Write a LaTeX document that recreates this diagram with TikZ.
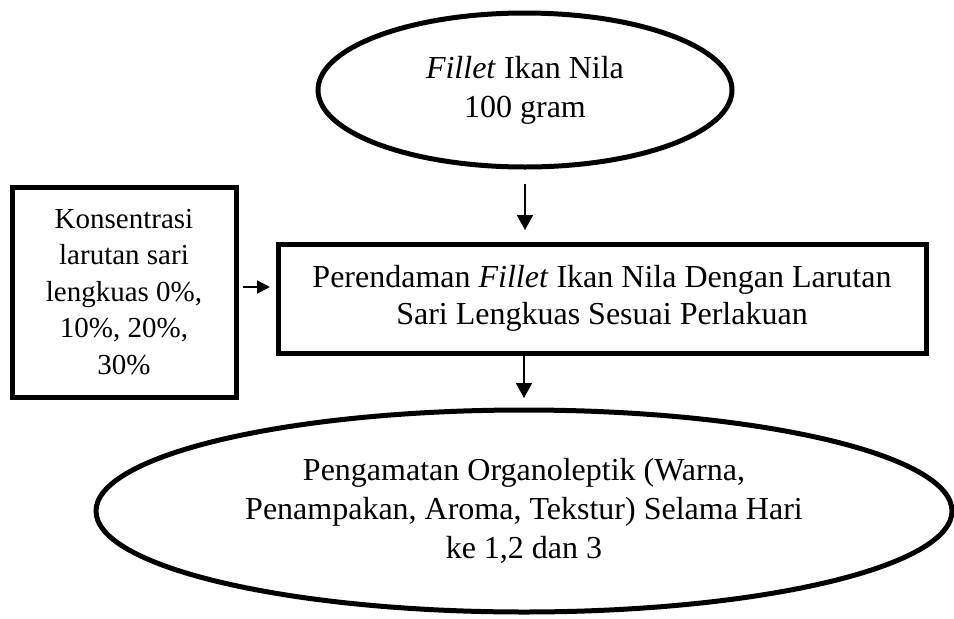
\documentclass[tikz,border=0pt]{standalone}
\usepackage{fontspec}
\setmainfont{Liberation Serif}
\usetikzlibrary{shapes.geometric,arrows.meta}
\tikzset{
  shapeline/.style={draw=black, line width=5pt, inner sep=0pt, align=center},
  ellnode/.style={shapeline, ellipse},
  boxnode/.style={shapeline, rectangle},
  bigfont/.style={font=\fontsize{32}{39}\selectfont},
  boxfont/.style={font=\fontsize{32}{37}\selectfont},
  smallfont/.style={font=\fontsize{29}{36.5}\selectfont},
  flowarrow/.style={line width=2pt, -{Triangle[length=15pt,width=16pt]}},
  sidearrow/.style={line width=2pt, -{Triangle[length=13pt,width=13pt]}}
}
\begin{document}
\begin{tikzpicture}[x=1pt,y=-1pt]
\useasboundingbox (0,0) rectangle (954,619);
\node[ellnode, bigfont, minimum width=414pt, minimum height=154pt] (te) at (525,90)
  {\textit{Fillet} Ikan Nila\\100 gram};
\node[boxnode, smallfont, minimum width=224pt, minimum height=210pt] (lb) at (124,292)
  {Konsentrasi\\larutan sari\\lengkuas 0\%,\\10\%, 20\%,\\30\%};
\node[boxnode, boxfont, minimum width=648pt, minimum height=109pt] (mb) at (602,298.5)
  {Perendaman \textit{Fillet} Ikan Nila Dengan Larutan\\Sari Lengkuas Sesuai Perlakuan};
\node[ellnode, bigfont, minimum width=856pt, minimum height=202pt] (be) at (524,511)
  {Pengamatan Organoleptik (Warna,\\Penampakan, Aroma, Tekstur) Selama Hari\\ke 1,2 dan 3};
\coordinate (ay) at (0,287);
\draw[flowarrow, shorten <=14.5pt, shorten >=11.5pt] (te.south) -- (te.south |- mb.north);
\draw[flowarrow, shorten >=9.5pt] (be.north |- mb.south) -- (be.north);
\draw[sidearrow, shorten <=4.5pt, shorten >=5.5pt] (lb.east |- ay) -- (mb.west |- ay);
\end{tikzpicture}
\end{document}
